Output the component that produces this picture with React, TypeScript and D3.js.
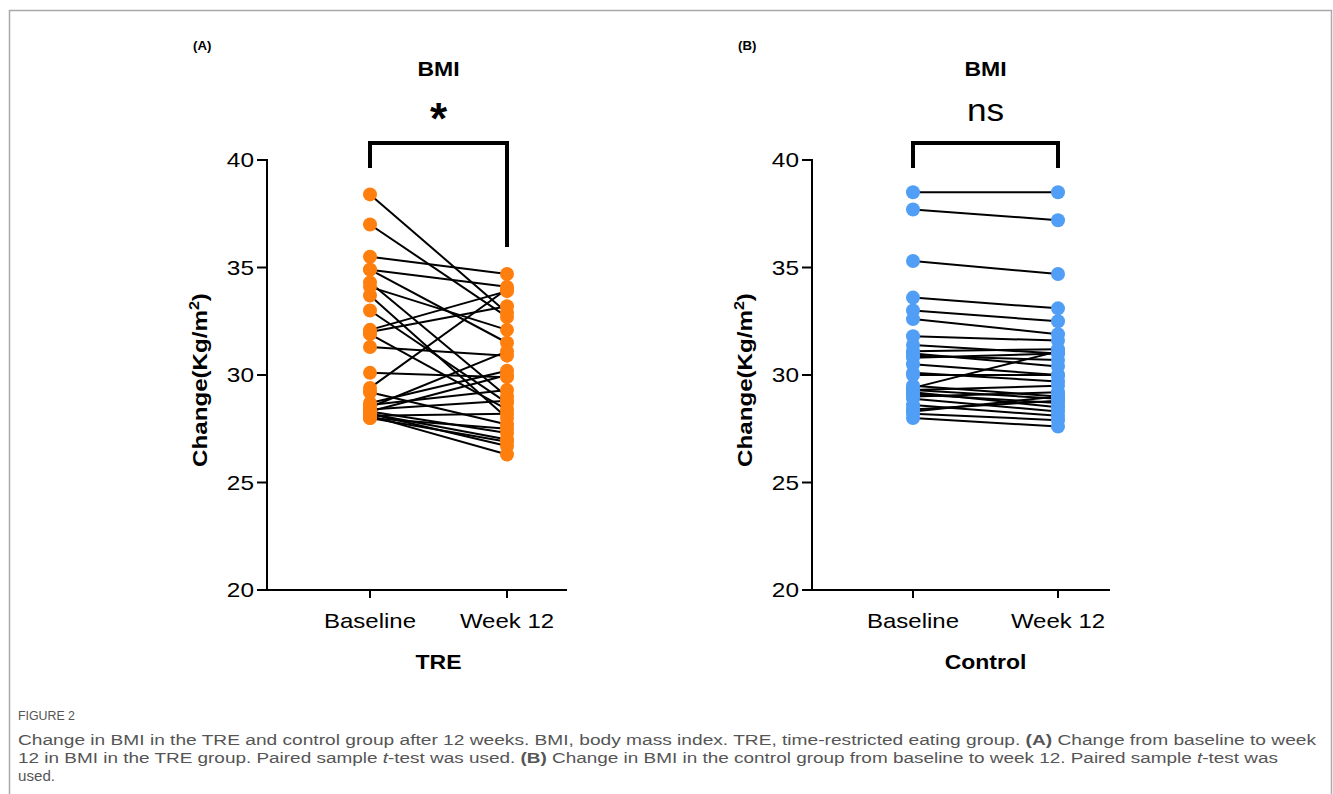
import React from 'react';
import * as d3 from 'd3';

// paired BMI values
const treBaseline = [38.4, 37.0, 35.5, 34.9, 34.9, 34.3, 34.1, 33.7, 33.0, 32.1, 32.0, 31.9, 31.3, 30.1, 29.4, 29.2, 28.7, 28.6, 28.5, 28.4, 28.3, 28.3, 28.2, 28.2, 28.1, 28.1, 28.0, 28.0];
const treWeek12 = [32.9, 32.7, 34.7, 34.1, 31.5, 29.0, 32.1, 28.0, 28.7, 33.9, 33.2, 28.4, 30.9, 29.9, 34.0, 27.7, 30.2, 29.3, 31.1, 28.8, 27.3, 30.0, 27.0, 26.7, 26.3, 28.2, 27.5, 26.9];

const ctlBaseline = [38.5, 37.7, 35.3, 33.6, 33.0, 32.6, 31.8, 31.4, 31.1, 31.0, 30.9, 30.8, 30.5, 30.1, 30.0, 29.5, 29.4, 29.3, 29.3, 29.2, 29.1, 29.0, 28.9, 28.6, 28.4, 28.3, 28.2, 28.0];
const ctlWeek12 = [38.5, 37.2, 34.7, 33.1, 32.5, 31.9, 31.6, 31.0, 31.2, 30.4, 30.7, 31.0, 30.0, 29.7, 30.0, 29.0, 31.1, 28.9, 29.5, 28.5, 28.7, 29.2, 28.3, 28.1, 28.8, 29.0, 27.9, 27.6];

const timepoints = ['Baseline', 'Week 12'];
const yTicks = [20, 25, 30, 35, 40];

const FONT = '"Liberation Sans", Arial, sans-serif';

// text stretched horizontally, the figure's lettering is wider than Arial
function SText(props: any) {
  const { x, y, sx = 1.18, children, ...rest } = props;
  return (
    <text transform={`translate(${x},${y}) scale(${sx},1)`} fontFamily={FONT} {...rest}>{children}</text>
  );
}

function Panel(props: any) {
  const { label, title, sig, group, base, week, color, axisX, axisEnd, xRange, rightLeg } = props;
  const y = d3.scaleLinear().domain([20, 40]).range([590, 160]);
  const x = d3.scalePoint().domain(timepoints).range(xRange);
  const x0 = x('Baseline')!;
  const x1 = x('Week 12')!;
  const mid = (x0 + x1) / 2;
  const top = 143;

  return (
    <g>
      <SText x={axisX - 74} y={50} sx={1.1} fontSize={12} fontWeight="bold">{label}</SText>
      <SText x={mid} y={76} sx={1.15} fontSize={20} fontWeight="bold" textAnchor="middle">{title}</SText>
      {sig === '*' ? (
        <text x={mid} y={134} fontSize={44} fontWeight="bold" textAnchor="middle" fontFamily={FONT}>*</text>
      ) : (
        <SText x={mid} y={121} sx={1.1} fontSize={32} textAnchor="middle">{sig}</SText>
      )}
      <path d={`M${x0},168V${top}H${x1}V${rightLeg}`} fill="none" stroke="#000" strokeWidth={4} />

      {/* axes */}
      <line x1={axisX} x2={axisX} y1={159} y2={591} stroke="#000" strokeWidth={2} />
      <line x1={axisX - 1} x2={axisEnd} y1={y(20)} y2={y(20)} stroke="#000" strokeWidth={2} />
      {yTicks.map(t => (
        <g key={t}>
          <line x1={axisX - 10} x2={axisX} y1={y(t)} y2={y(t)} stroke="#000" strokeWidth={2} />
          <SText x={axisX - 13} y={y(t) + 7} sx={1.22} fontSize={20} textAnchor="end">{t}</SText>
        </g>
      ))}
      {timepoints.map(tp => (
        <g key={tp}>
          <line x1={x(tp)} x2={x(tp)} y1={y(20)} y2={y(20) + 8} stroke="#000" strokeWidth={2} />
          <SText x={x(tp)} y={628} sx={1.2} fontSize={20} textAnchor="middle">{tp}</SText>
        </g>
      ))}
      <text transform={`translate(${axisX - 60},${y(30) + 5}) rotate(-90) scale(1.15,1)`} fontSize={21} fontWeight="bold" textAnchor="middle" fontFamily={FONT}>
        Change(Kg/m<tspan dy={-8} fontSize={14}>2</tspan><tspan dy={8}>)</tspan>
      </text>
      <SText x={mid} y={669} sx={1.15} fontSize={20} fontWeight="bold" textAnchor="middle">{group}</SText>

      {/* paired lines */}
      {base.map((b: number, i: number) => (
        <line key={'l' + i} x1={x0} y1={y(b)} x2={x1} y2={y(week[i])} stroke="#000" strokeWidth={2} />
      ))}
      {base.map((b: number, i: number) => (
        <circle key={'b' + i} cx={x0} cy={y(b)} r={7} fill={color} />
      ))}
      {week.map((w: number, i: number) => (
        <circle key={'w' + i} cx={x1} cy={y(w)} r={7} fill={color} />
      ))}
    </g>
  );
}

export default function App() {
  const capFont = '"Liberation Sans Narrow", "Liberation Sans", sans-serif';
  return (
    <svg width={1333} height={794} style={{ position: 'absolute', left: 0, top: 0, background: '#fff' }}>
      <rect x={9.5} y={10.5} width={1322} height={800} fill="#fff" stroke="#a9a9ad" strokeWidth={1.5} />
      <Panel label="(A)" title="BMI" sig="*" group="TRE" base={treBaseline} week={treWeek12}
        color="#ff7f0e" axisX={267} axisEnd={567} xRange={[370, 507]} rightLeg={247} />
      <Panel label="(B)" title="BMI" sig="ns" group="Control" base={ctlBaseline} week={ctlWeek12}
        color="#509ef5" axisX={812} axisEnd={1110} xRange={[913, 1058]} rightLeg={168} />

      <text x={18} y={720} fontSize={12} fill="#555" fontFamily={capFont} textLength={57} lengthAdjust="spacingAndGlyphs">FIGURE 2</text>
      <g fontSize={15.5} fill="#555" fontFamily={capFont}>
        <text x={18} y={745} textLength={1298} lengthAdjust="spacingAndGlyphs">
          Change in BMI in the TRE and control group after 12 weeks. BMI, body mass index. TRE, time-restricted eating group. <tspan fontWeight="bold">(A)</tspan> Change from baseline to week
        </text>
        <text x={18} y={763} textLength={1260} lengthAdjust="spacingAndGlyphs">
          12 in BMI in the TRE group. Paired sample <tspan fontStyle="italic">t</tspan>-test was used. <tspan fontWeight="bold">(B)</tspan> Change in BMI in the control group from baseline to week 12. Paired sample <tspan fontStyle="italic">t</tspan>-test was
        </text>
        <text x={18} y={781} textLength={37} lengthAdjust="spacingAndGlyphs">used.</text>
      </g>
    </svg>
  );
}
